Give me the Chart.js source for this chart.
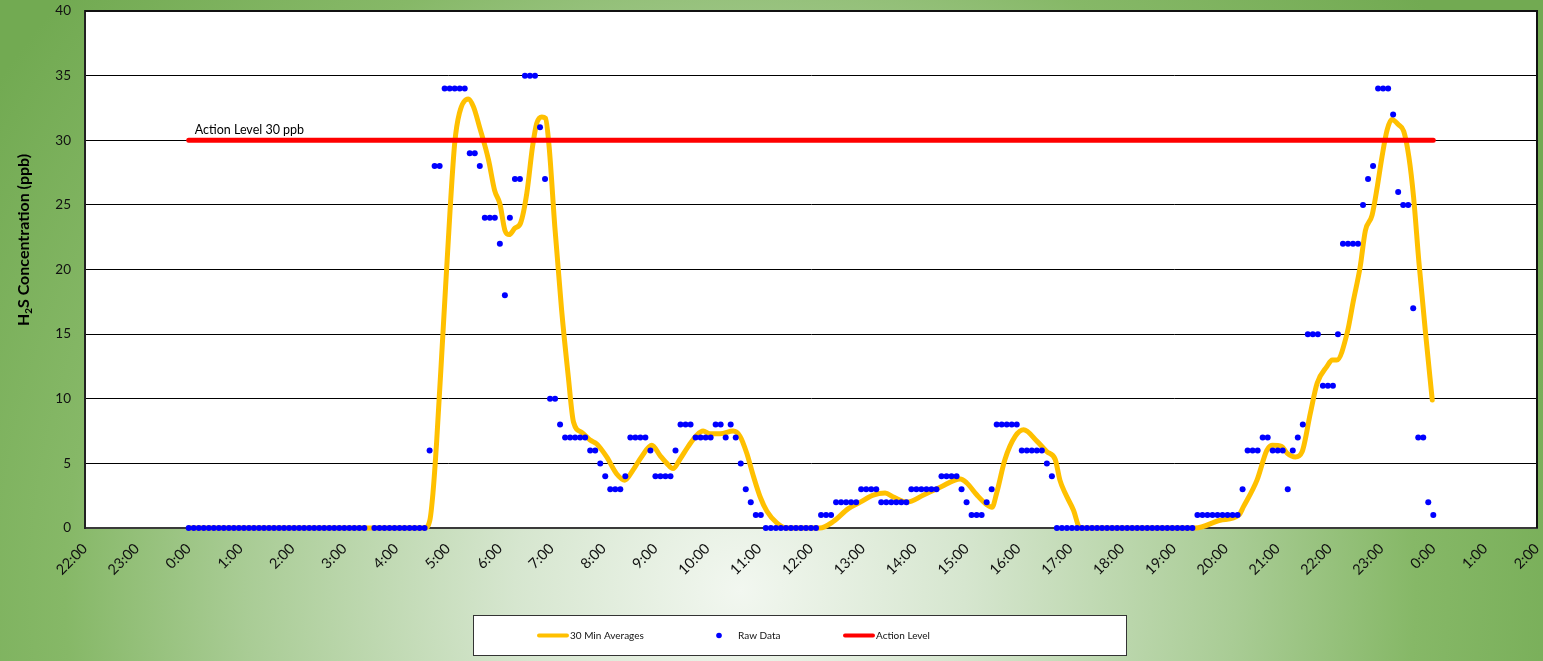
<!DOCTYPE html>
<html>
<head>
<meta charset="utf-8">
<title>H2S Concentration</title>
<script src="https://cdn.jsdelivr.net/npm/chart.js@4.4.1/dist/chart.umd.min.js"></script>
<style>
    html, body { margin: 0; padding: 0; }
    body {
        width: 1543px; height: 661px; overflow: hidden;
        background: radial-gradient(circle 900px at 740px 590px, #f2f7f0 0%, #d6e6cf 25%, #a9cc95 55%, #86b867 75%, #72aa52 100%);
    }
    #wrap { position: relative; width: 1543px; height: 661px; }
</style>
</head>
<body>
<div id="wrap"><canvas id="h2sChart" width="1543" height="661"></canvas></div>
<script>
// H2S concentration over one day: raw readings, 30 min averages and the action level.
// X values are hours after midnight (-2 = 22:00 the day before, 26 = 2:00 next day).

const FONT = 'Lato, "Liberation Sans", Arial, sans-serif';

// Raw readings, one every 24/248 h starting at 0:00 (null = missing reading)
const rawStart = 0;
const rawStep = 24 / 248;
const rawValues = [
    0, 0, 0, 0, 0, 0, 0, 0, 0, 0, 0, 0,
    0, 0, 0, 0, 0, 0, 0, 0, 0, 0, 0, 0,
    0, 0, 0, 0, 0, 0, 0, 0, 0, 0, 0, 0,
    null, 0, 0, 0, 0, 0, 0, 0, 0, 0, 0, 0,
    6, 28, 28, 34, 34, 34, 34, 34, 29, 29, 28, 24,
    24, 24, 22, 18, 24, 27, 27, 35, 35, 35, 31, 27,
    10, 10, 8, 7, 7, 7, 7, 7, 6, 6, 5, 4,
    3, 3, 3, 4, 7, 7, 7, 7, 6, 4, 4, 4,
    4, 6, 8, 8, 8, 7, 7, 7, 7, 8, 8, 7,
    8, 7, 5, 3, 2, 1, 1, 0, 0, 0, 0, 0,
    0, 0, 0, 0, 0, 0, 1, 1, 1, 2, 2, 2,
    2, 2, 3, 3, 3, 3, 2, 2, 2, 2, 2, 2,
    3, 3, 3, 3, 3, 3, 4, 4, 4, 4, 3, 2,
    1, 1, 1, 2, 3, 8, 8, 8, 8, 8, 6, 6,
    6, 6, 6, 5, 4, 0, 0, 0, 0, 0, 0, 0,
    0, 0, 0, 0, 0, 0, 0, 0, 0, 0, 0, 0,
    0, 0, 0, 0, 0, 0, 0, 0, 0, 1, 1, 1,
    1, 1, 1, 1, 1, 1, 3, 6, 6, 6, 7, 7,
    6, 6, 6, 3, 6, 7, 8, 15, 15, 15, 11, 11,
    11, 15, 22, 22, 22, 22, 25, 27, 28, 34, 34, 34,
    32, 26, 25, 25, 17, 7, 7, 2, 1
];

// 30 minute averages
const avgTimes = [
    0, 3.5, 4.55, 4.65, 4.71, 4.78, 4.91, 5.04, 5.13, 5.22, 5.39, 5.49,
    5.61, 5.78, 5.9, 6.0, 6.1, 6.18, 6.29, 6.4, 6.52, 6.63, 6.71, 6.81,
    6.88, 6.95, 7.06, 7.19, 7.32, 7.42, 7.58, 7.74, 7.87, 8.06, 8.25, 8.41,
    8.57, 8.73, 8.93, 9.09, 9.22, 9.34, 9.47, 9.63, 9.8, 9.92, 10.05, 10.25,
    10.5, 10.63, 10.76, 10.89, 11.02, 11.15, 11.34, 11.53, 12.17, 12.43, 12.72, 12.95,
    13.2, 13.43, 13.59, 13.85, 14.17, 14.49, 14.88, 15.0, 15.2, 15.39, 15.49, 15.58,
    15.74, 15.94, 16.1, 16.36, 16.55, 16.71, 16.8, 16.9, 17.06, 17.19, 19.41, 19.89,
    20.25, 20.34, 20.6, 20.79, 20.89, 21.08, 21.18, 21.34, 21.47, 21.63, 21.76, 21.95,
    22.05, 22.14, 22.34, 22.46, 22.59, 22.69, 22.82, 22.92, 23.01, 23.11, 23.2, 23.33,
    23.43, 23.53, 23.62, 23.72, 23.85, 23.98
];
const avgValues = [
    0, 0, 0, 0.6, 2.7, 6.6, 15.6, 24.6, 29.8, 32.1, 33.2, 32.6,
    31.0, 28.5, 26.1, 25.1, 23.0, 22.7, 23.2, 23.6, 25.9, 29.5, 31.3, 31.8,
    31.7, 29.5, 23.3, 16.9, 11.7, 8.2, 7.4, 6.8, 6.5, 5.5, 4.2, 3.7,
    4.5, 5.5, 6.4, 5.6, 5.0, 4.6, 5.3, 6.3, 7.2, 7.5, 7.3, 7.3,
    7.5, 7.1, 5.8, 4.0, 2.4, 1.3, 0.4, 0, 0, 0.5, 1.5, 2.0,
    2.55, 2.7, 2.4, 2.0, 2.55, 3.15, 3.8, 3.5, 2.55, 1.8, 1.6, 2.7,
    5.3, 7.1, 7.6, 6.7, 5.9, 5.3, 3.7, 2.7, 1.4, 0, 0, 0.6,
    1.0, 1.65, 3.7, 6.0, 6.4, 6.3, 5.8, 5.5, 5.9, 8.9, 11.2, 12.5,
    13.0, 13.0, 15.1, 17.6, 20.2, 23.0, 24.2, 26.4, 28.7, 30.8, 31.6, 31.2,
    30.7, 28.7, 25.6, 20.7, 15.1, 9.9
];

// Action level, drawn from midnight to midnight
const actionLevel = 30;
const actionFrom = 0;
const actionTo = 24;

const xMin = -2, xMax = 26;
const yMin = 0, yMax = 40, yStep = 5;

const legendItems = [
    { text: '30 Min Averages', kind: 'line', color: '#ffc000' },
    { text: 'Raw Data', kind: 'dot', color: '#0000ff' },
    { text: 'Action Level', kind: 'line', color: '#ff0000' }
];

const rawPoints = rawValues.map((v, i) => ({ x: rawStart + i * rawStep, y: v }));
const avgPoints = avgTimes.map((t, i) => ({ x: t, y: avgValues[i] }));
const actionPoints = [{ x: actionFrom, y: actionLevel }, { x: actionTo, y: actionLevel }];

// Plugin: white plot area behind everything
const plotBackground = {
    id: 'plotBackground',
    beforeDraw(chart) {
        const { ctx, chartArea: a } = chart;
        ctx.save();
        ctx.fillStyle = '#fff';
        ctx.fillRect(a.left, a.top, a.right - a.left, a.bottom - a.top);
        ctx.restore();
    }
};

// Plugin: plot frame, y axis title, action level label and boxed legend
const decorPlugin = {
    id: 'decor',
    afterDraw(chart) {
        const { ctx, chartArea: a, scales: { x, y } } = chart;

        // frame (top and right; left/bottom come from axis borders)
        ctx.save();
        ctx.strokeStyle = '#111';
        ctx.lineWidth = 2;
        ctx.beginPath();
        ctx.moveTo(a.left, a.top);
        ctx.lineTo(a.right, a.top);
        ctx.lineTo(a.right, a.bottom);
        ctx.stroke();
        ctx.restore();

        // y axis title with subscript 2
        ctx.save();
        ctx.translate(24, 240);
        ctx.rotate(-Math.PI / 2);
        ctx.fillStyle = '#000';
        ctx.textBaseline = 'middle';
        const big = 'bold 16px ' + FONT, small = 'bold 10px ' + FONT;
        ctx.font = big;
        const w1 = ctx.measureText('H').width;
        const w3 = ctx.measureText('S Concentration (ppb)').width;
        ctx.font = small;
        const w2 = ctx.measureText('2').width;
        const sx = -(w1 + w2 + w3) / 2;
        ctx.font = big;
        ctx.fillText('H', sx, 0);
        ctx.font = small;
        ctx.fillText('2', sx + w1, 5);
        ctx.font = big;
        ctx.fillText('S Concentration (ppb)', sx + w1 + w2, 0);
        ctx.restore();

        // action level label
        ctx.save();
        ctx.font = '12.5px ' + FONT;
        ctx.fillStyle = '#000';
        ctx.textBaseline = 'alphabetic';
        ctx.fillText('Action Level ' + actionLevel + ' ppb', x.getPixelForValue(actionFrom) + 6, y.getPixelForValue(actionLevel) - 6);
        ctx.restore();

        // legend box
        ctx.save();
        ctx.fillStyle = '#fff';
        ctx.strokeStyle = '#333';
        ctx.lineWidth = 1;
        ctx.fillRect(473.5, 615.5, 653, 40);
        ctx.strokeRect(473.5, 615.5, 653, 40);
        ctx.font = '10px ' + FONT;
        ctx.textBaseline = 'middle';
        const ly = 635.5;
        const starts = [537, 713, 843];
        legendItems.forEach((it, k) => {
            const sx0 = starts[k];
            if (it.kind === 'line') {
                ctx.strokeStyle = it.color;
                ctx.lineWidth = 4;
                ctx.lineCap = 'round';
                ctx.beginPath();
                ctx.moveTo(sx0 + 2, ly);
                ctx.lineTo(sx0 + 30, ly);
                ctx.stroke();
                ctx.fillStyle = '#111';
                ctx.fillText(it.text, sx0 + 33, ly);
            } else {
                ctx.fillStyle = it.color;
                ctx.beginPath();
                ctx.arc(sx0 + 6, ly, 2.8, 0, Math.PI * 2);
                ctx.fill();
                ctx.fillStyle = '#111';
                ctx.fillText(it.text, sx0 + 25, ly);
            }
        });
        ctx.restore();
    }
};

const fmtHour = v => (((v % 24) + 24) % 24) + ':00';

new Chart(document.getElementById('h2sChart').getContext('2d'), {
    type: 'line',
    data: {
        datasets: [
            {
                label: 'Raw Data',
                data: rawPoints,
                showLine: false,
                pointRadius: 3,
                pointBorderWidth: 0,
                pointBackgroundColor: '#0000ff',
                borderColor: '#0000ff',
                clip: false,
                order: 0
            },
            {
                label: 'Action Level',
                data: actionPoints,
                borderColor: '#ff0000',
                borderWidth: 5,
                borderCapStyle: 'round',
                pointRadius: 0,
                order: 1
            },
            {
                label: '30 Min Averages',
                data: avgPoints,
                borderColor: '#ffc000',
                borderWidth: 5,
                borderCapStyle: 'round',
                borderJoinStyle: 'round',
                cubicInterpolationMode: 'monotone',
                pointRadius: 0,
                clip: false,
                order: 2
            }
        ]
    },
    options: {
        responsive: false,
        animation: false,
        devicePixelRatio: 1,
        layout: { padding: { top: 11, right: 6, left: 0, bottom: 0 } },
        plugins: {
            legend: { display: false },
            tooltip: { enabled: false },
            title: { display: false }
        },
        scales: {
            x: {
                type: 'linear',
                min: xMin, max: xMax,
                afterFit: s => { s.height = 133; s.paddingLeft = 0; s.paddingRight = 0; },
                grid: { display: false, drawTicks: false },
                border: { display: true, color: '#3a3a3a', width: 2 },
                ticks: {
                    stepSize: 1,
                    autoSkip: false,
                    minRotation: 45,
                    maxRotation: 45,
                    padding: 12,
                    color: '#111',
                    font: { family: FONT, size: 14.5 },
                    callback: fmtHour
                }
            },
            y: {
                type: 'linear',
                min: yMin, max: yMax,
                afterFit: s => { s.width = 85; s.paddingTop = 0; s.paddingBottom = 0; },
                grid: { color: '#000', lineWidth: 1, drawTicks: false },
                border: { display: true, color: '#222', width: 2 },
                ticks: {
                    stepSize: yStep,
                    padding: 14,
                    color: '#111',
                    font: { family: FONT, size: 13.5 }
                }
            }
        }
    },
    plugins: [plotBackground, decorPlugin]
});
</script>
</body>
</html>
